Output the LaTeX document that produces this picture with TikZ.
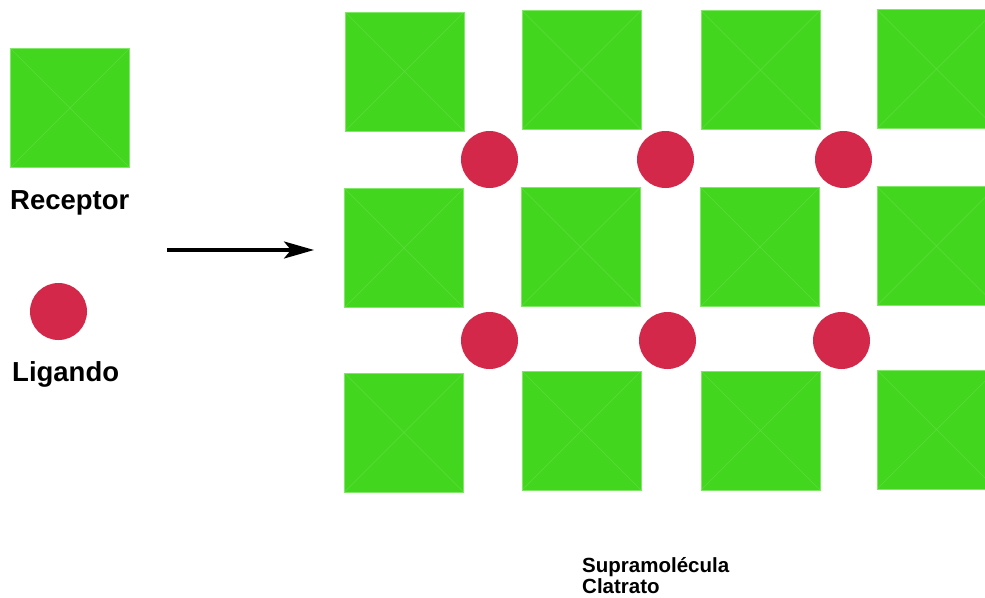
\documentclass[tikz,border=0pt]{standalone}
\usepackage{fontspec}
\setmainfont{Liberation Sans}
\usetikzlibrary{arrows.meta}
\definecolor{recgreen}{HTML}{43D61E}
\definecolor{recedge}{HTML}{7FE866}
\definecolor{recdiag}{HTML}{5BDD3B}
\definecolor{ligred}{HTML}{D4284A}
\tikzset{
  receptor/.style={rectangle, fill=recgreen, draw=recedge, line width=0.8pt,
    minimum width=119pt, minimum height=119pt, inner sep=0pt,
    path picture={\draw[recdiag, line width=0.6pt]
      (path picture bounding box.north west) -- (path picture bounding box.south east)
      (path picture bounding box.south west) -- (path picture bounding box.north east);}},
  ligand/.style={circle, fill=ligred, minimum size=57pt, inner sep=0pt},
  legendtext/.style={anchor=base west, inner sep=0pt,
    font=\fontsize{27.5}{30}\selectfont\bfseries},
  captiontext/.style={anchor=base west, inner sep=0pt,
    font=\fontsize{20.5}{21}\selectfont\bfseries},
}
\begin{document}
\begin{tikzpicture}[x=1pt, y=-1pt]
\useasboundingbox (0,0) rectangle (985,597);
\clip (0,0) rectangle (985,597);
\fill[white] (0,0) rectangle (985,597);

% legend
\node[receptor] (legrec) at (70,108) {};
\node[legendtext] (rectext) at (10,209) {Receptor};
\node[ligand] (leglig) at (58.5,311.5) {};
\node[legendtext] (ligtext) at (12,381) {Ligando};

% reaction arrow
\coordinate (arrstart) at (167,250);
\coordinate (arrend) at (314,250);
\draw[line width=3.2pt, -{Stealth[length=30pt, width=17pt, inset=7pt]}] (arrstart) -- (arrend);

% clathrate lattice: receptors
\node[receptor] (r11) at (404.5,71.5) {};
\node[receptor] (r12) at (581.5,70) {};
\node[receptor] (r13) at (760.5,70) {};
\node[receptor] (r14) at (936.5,69) {};
\node[receptor] (r21) at (404,248) {};
\node[receptor] (r22) at (580.5,247) {};
\node[receptor] (r23) at (760,247) {};
\node[receptor] (r24) at (936.5,246) {};
\node[receptor] (r31) at (404,432.5) {};
\node[receptor] (r32) at (581.5,430.5) {};
\node[receptor] (r33) at (760.5,430.5) {};
\node[receptor] (r34) at (936.5,429.5) {};

% guests in the cavities
\node[ligand] (g11) at (489.5,159.5) {};
\node[ligand] (g12) at (665.5,159.5) {};
\node[ligand] (g13) at (843.5,159.5) {};
\node[ligand] (g21) at (489.5,340.5) {};
\node[ligand] (g22) at (667.5,340.5) {};
\node[ligand] (g23) at (841.5,340.5) {};

% caption
\node[captiontext] (cap1) at (582,572) {Supramolécula};
\node[captiontext] (cap2) at (582,593) {Clatrato};
\end{tikzpicture}
\end{document}
